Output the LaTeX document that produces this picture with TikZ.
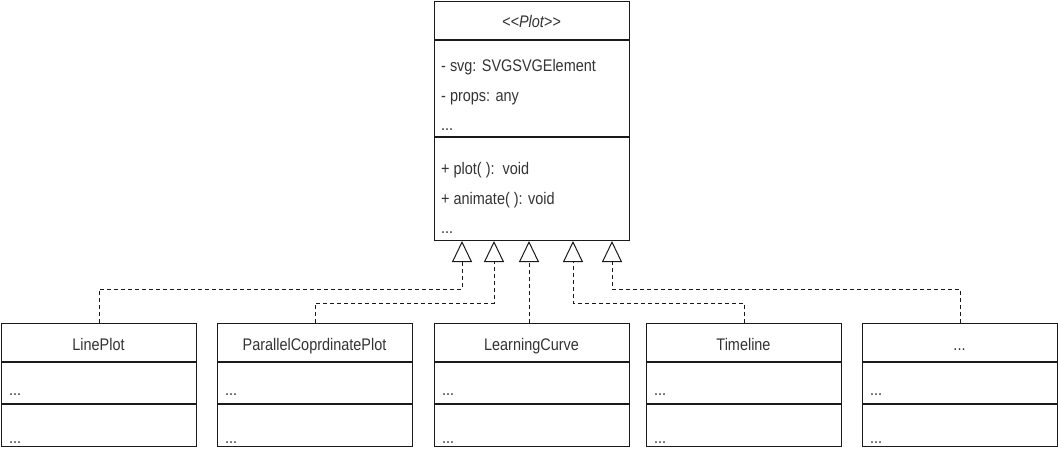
\documentclass[tikz,border=0pt]{standalone}
\usepackage{fontspec}
\setmainfont{Liberation Sans}[FakeStretch=0.86]
\usetikzlibrary{arrows.meta,calc}
\definecolor{ink}{HTML}{333333}
\definecolor{edge}{HTML}{1A1A1A}
\newcommand\myellip{...}
\begin{document}
\begin{tikzpicture}[x=1pt,y=-1pt,
  cls/.style={draw=edge, line width=1.3pt, minimum width=195pt, inner sep=0pt, anchor=north west},
  divider/.style={draw=edge, line width=1.3pt},
  txt/.style={text=ink, font=\fontsize{16.8}{19}\selectfont, inner sep=0pt, anchor=base west},
  ttl/.style={text=ink, font=\fontsize{16.8}{19}\selectfont, inner sep=0pt, anchor=base},
  realize/.style={draw=edge, line width=1pt, dash pattern=on 4pt off 3pt,
    -{Triangle[open, length=21pt, width=20pt, line width=1pt, sep=0pt]}}]
\useasboundingbox (0,0) rectangle (1058,452);

% ---- abstract class Plot ----
\node[cls, minimum height=239pt] (plot) at (434,1) {};
\draw[divider] (434,40) -- (629,40);
\draw[divider] (434,137) -- (629,137);
\node[ttl, font=\fontsize{16.8}{19}\selectfont\itshape] (ptitle) at (531.5,28) {{<}{<}Plot{>}{>}};
\node[txt] (pa1) at (441,72) {- svg: SVGSVGElement};
\node[txt] (pa2) at (441,101) {- props: any};
\node[txt] (pa3) at (441,130) {\myellip};
\node[txt] (pm1) at (441,174) {+ plot( ):\ \ void};
\node[txt] (pm2) at (441,204) {+ animate( ): void};
\node[txt] (pm3) at (441,233) {\myellip};

% ---- subclasses ----
\foreach \nm/\x/\lab in {lp/1/LinePlot, pc/217/ParallelCoprdinatePlot, lc/434/LearningCurve, tl/646/Timeline, more/862/\myellip}{
  \node[cls, minimum height=123pt] (\nm) at (\x,323) {};
  \draw[divider] (\x,362) -- ++(195,0);
  \draw[divider] (\x,404) -- ++(195,0);
  \node[ttl] (\nm-t) at ($(\x,350)+(97.5,0)$) {\lab};
  \node[txt] (\nm-a) at ($(\x,395)+(8,0)$) {\myellip};
  \node[txt] (\nm-m) at ($(\x,443)+(8,0)$) {\myellip};
}

% ---- triangle tips on Plot's bottom edge ----
\coordinate (t1) at (462,241);
\coordinate (t2) at (494,241);
\coordinate (t3) at (529,241);
\coordinate (t4) at (573,241);
\coordinate (t5) at (612,241);

% ---- realization connectors ----
\draw[realize] (lp.north) |- ([yshift=-48pt]t1) -- (t1);
\draw[realize] (pc.north) |- ([yshift=-62pt]t2) -- (t2);
\draw[realize] (lc.north -| t3) -- (t3);
\draw[realize] (tl.north) |- ([yshift=-62pt]t4) -- (t4);
\draw[realize] (more.north) |- ([yshift=-48pt]t5) -- (t5);
\end{tikzpicture}
\end{document}
